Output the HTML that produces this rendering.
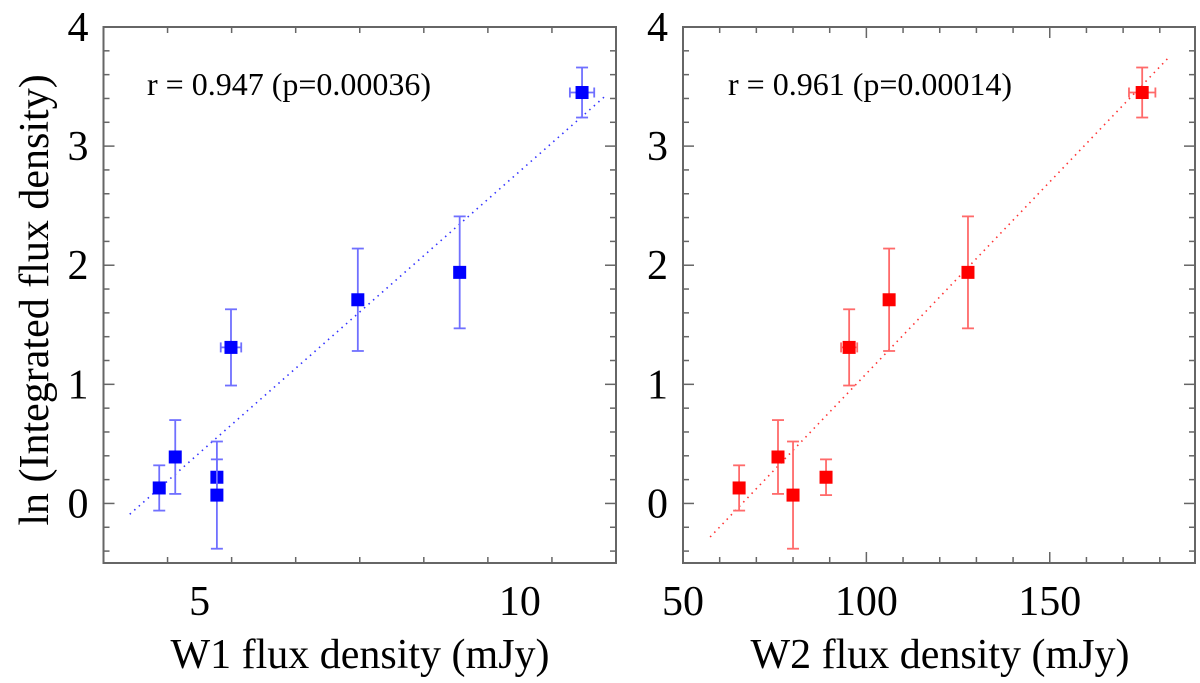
<!DOCTYPE html>
<html><head><meta charset="utf-8"><style>
html,body{margin:0;padding:0;background:#fff;}
svg{display:block;font-family:"Liberation Serif",serif;}
</style></head><body>
<svg id="chart" width="1200" height="683" viewBox="0 0 1200 683" xmlns="http://www.w3.org/2000/svg">
<text transform="translate(48,300) rotate(-90)" text-anchor="middle" font-size="42">ln (Integrated flux density)</text>
<text x="360" y="668" text-anchor="middle" font-size="42">W1 flux density (mJy)</text>
<text x="940" y="668" text-anchor="middle" font-size="42">W2 flux density (mJy)</text>
<text x="147" y="95" font-size="32">r = 0.947 (p=0.00036)</text>
<text x="728" y="95" font-size="32">r = 0.961 (p=0.00014)</text>
<g id="p1"></g>
<g id="p2"></g>
</svg>
<script>
const yTicks = [0, 1, 2, 3, 4];
const w1Ticks = [5, 10];
const w2Ticks = [50, 100, 150];
const w1X = [4.37, 4.62, 5.27, 5.27, 5.49, 7.47, 9.06, 10.97];
const w1XErr = [0.03, 0.05, 0.05, 0.03, 0.16, 0.05, 0.03, 0.19];
const w2X = [65.3, 75.9, 80.0, 89.0, 95.3, 106.2, 127.7, 175.2];
const w2XErr = [0.5, 0.5, 0.5, 1.0, 2.2, 0.5, 0.5, 3.6];
const lnFlux1 = [0.13, 0.39, 0.22, 0.07, 1.31, 1.71, 1.94, 3.45];
const lnFlux2 = [0.13, 0.39, 0.07, 0.22, 1.31, 1.71, 1.94, 3.45];
const yErr1 = [0.19, 0.31, 0.15, 0.45, 0.32, 0.43, 0.47, 0.21];
const yErr2 = [0.19, 0.31, 0.45, 0.15, 0.32, 0.43, 0.47, 0.21];
const fit1 = [0.473, -1.94, 3.91, 11.35];
const fit2 = [0.0322, -2.13, 57.4, 182.8];

const NS = "http://www.w3.org/2000/svg";
function mk(parent, tag, attrs) {
  const e = document.createElementNS(NS, tag);
  for (const k in attrs) e.setAttribute(k, attrs[k]);
  parent.appendChild(e);
  return e;
}
function panel(g, cfg) {
  const L = cfg.L, R = cfg.R, T = 27, B = 563;
  const sx = v => L + (v - cfg.xmin) / (cfg.xmax - cfg.xmin) * (R - L);
  const sy = v => B - (v - (-0.5)) / 4.5 * (B - T);
  const ax = "#666";
  const frame = mk(g, 'rect', {x: L, y: T, width: R - L, height: B - T, fill: 'none', stroke: ax, 'stroke-width': 2});
  
  
  for (let i = -2; i <= 20; i++) {
    const v = i * 0.2; if (v < -0.5 || v > 4) continue;
    const y = sy(v); const len = (i % 5 === 0) ? 11 : 6;
    mk(g, 'line', {x1: L, x2: L + len, y1: y, y2: y, stroke: ax, 'stroke-width': 1.5});
    mk(g, 'line', {x1: R, x2: R - len, y1: y, y2: y, stroke: ax, 'stroke-width': 1.5});
  }
  yTicks.forEach(v => {
    const t = mk(g, 'text', {x: L - 15, y: sy(v) + 14, 'text-anchor': 'end', 'font-size': 42});
    t.textContent = v;
    
    
  });
  for (let v = cfg.xmin; v <= cfg.xmax + 1e-9; v += cfg.minor) {
    const x = sx(v);
    const major = cfg.ticks.some(t => Math.abs(t - v) < 1e-6);
    const len = major ? 11 : 6;
    mk(g, 'line', {x1: x, x2: x, y1: B, y2: B - len, stroke: ax, 'stroke-width': 1.5});
    mk(g, 'line', {x1: x, x2: x, y1: T, y2: T + len, stroke: ax, 'stroke-width': 1.5});
  }
  cfg.ticks.forEach(v => {
    const t = mk(g, 'text', {x: sx(v), y: 615, 'text-anchor': 'middle', 'font-size': 42});
    t.textContent = v;
    
    
  });
  const f = cfg.fit;
  const fl = mk(g, 'line', {x1: sx(f[2]), y1: sy(f[0] * f[2] + f[1]), x2: sx(f[3]), y2: sy(f[0] * f[3] + f[1]), stroke: cfg.color, 'stroke-width': 1.6, 'stroke-dasharray': '1.5 4.5', opacity: 0.8});
  
  
  cfg.xs.forEach((xv, i) => {
    const x = sx(xv), y = sy(cfg.ys[i]);
    const y1 = sy(cfg.ys[i] + cfg.ye[i]), y2 = sy(cfg.ys[i] - cfg.ye[i]);
    const x1 = sx(xv - cfg.xe[i]), x2 = sx(xv + cfg.xe[i]);
    const eb = mk(g, 'g', {stroke: cfg.ecolor, 'stroke-width': 1.8});
    
    
    mk(eb, 'line', {x1: x, x2: x, y1: y1, y2: y2});
    mk(eb, 'line', {x1: x - 6, x2: x + 6, y1: y1, y2: y1});
    mk(eb, 'line', {x1: x - 6, x2: x + 6, y1: y2, y2: y2});
    mk(eb, 'line', {x1: x1, x2: x2, y1: y, y2: y});
    mk(eb, 'line', {x1: x1, x2: x1, y1: y - 5, y2: y + 5});
    mk(eb, 'line', {x1: x2, x2: x2, y1: y - 5, y2: y + 5});
    const p = mk(g, 'rect', {x: x - 6.5, y: y - 6.5, width: 13, height: 13, fill: cfg.color});
    
    
  });
}
panel(document.getElementById('p1'), {name: 'w1', L: 103.5, R: 616, xmin: 3.5, xmax: 11.5, minor: 1, ticks: w1Ticks,
  xs: w1X, xe: w1XErr, ys: lnFlux1, ye: yErr1, fit: fit1, color: '#0000ff', ecolor: '#7070ff'});
panel(document.getElementById('p2'), {name: 'w2', L: 683, R: 1195, xmin: 50, xmax: 189.6, minor: 10, ticks: w2Ticks,
  xs: w2X, xe: w2XErr, ys: lnFlux2, ye: yErr2, fit: fit2, color: '#ff0000', ecolor: '#ff6a6a'});
</script>
</body></html>
